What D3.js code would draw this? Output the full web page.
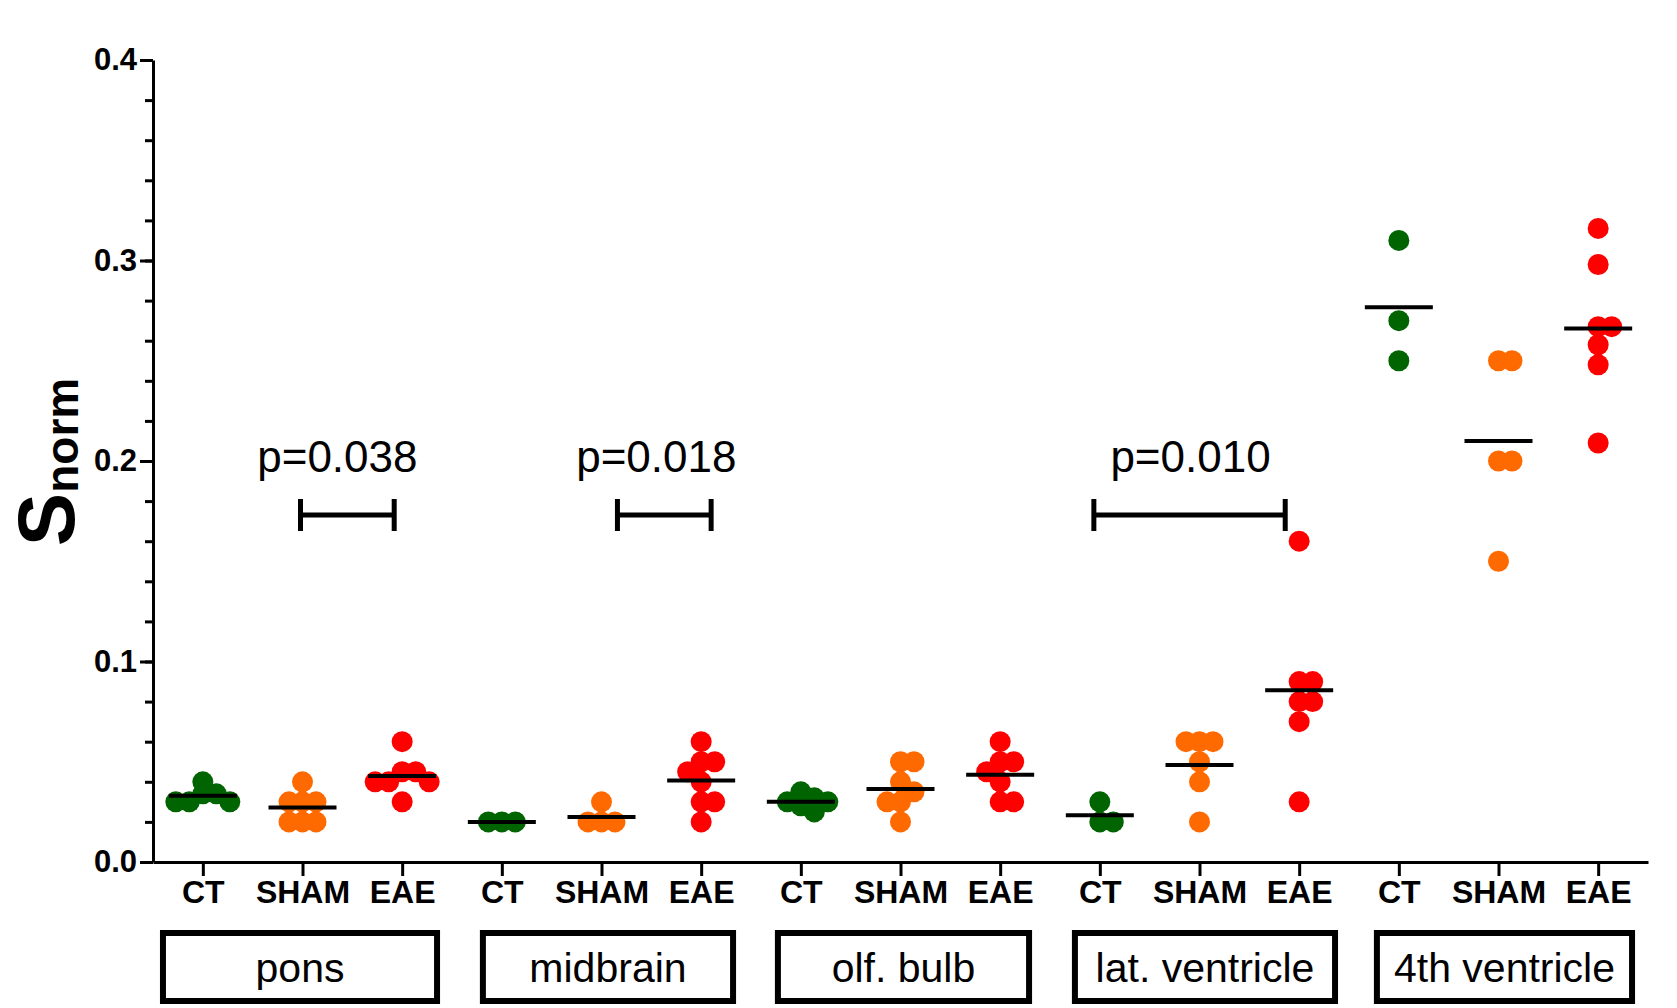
<!DOCTYPE html>
<html>
<head>
<meta charset="utf-8">
<script src="https://cdn.jsdelivr.net/npm/d3@7"></script>
<style>
  html, body { margin: 0; background: #fff; }
  svg { display: block; font-family: Arial, "Liberation Sans", sans-serif; }
</style>
</head>
<body>
<svg id="chart" width="1677" height="1008"></svg>
<script>
/* S_norm scatter dot plot by brain region and group. */
"use strict";

const REGIONS = ["pons", "midbrain", "olf. bulb", "lat. ventricle", "4th ventricle"];
const GROUPS = ["CT", "SHAM", "EAE"];
const GROUP_COLORS = { CT: "#006400", SHAM: "#ff6a00", EAE: "#ff0000" };

/* one list of values per region */
const CT_VALUES = [
  [0.04, 0.034, 0.034, 0.03, 0.03, 0.03],
  [0.02, 0.02, 0.02],
  [0.035, 0.032, 0.03, 0.03, 0.028, 0.025],
  [0.03, 0.02, 0.02],
  [0.31, 0.27, 0.25],
];
const SHAM_VALUES = [
  [0.04, 0.03, 0.03, 0.03, 0.02, 0.02, 0.02],
  [0.03, 0.02, 0.02, 0.02],
  [0.05, 0.05, 0.04, 0.035, 0.03, 0.03, 0.02],
  [0.06, 0.06, 0.06, 0.05, 0.04, 0.02],
  [0.25, 0.25, 0.2, 0.2, 0.15],
];
const EAE_VALUES = [
  [0.06, 0.045, 0.045, 0.04, 0.04, 0.04, 0.03],
  [0.06, 0.05, 0.05, 0.045, 0.04, 0.03, 0.03, 0.02],
  [0.06, 0.05, 0.05, 0.045, 0.04, 0.03, 0.03],
  [0.16, 0.09, 0.09, 0.08, 0.08, 0.07, 0.03],
  [0.316, 0.298, 0.267, 0.267, 0.258, 0.248, 0.209],
];

const Y_TICKS = [0, 0.1, 0.2, 0.3, 0.4];
const Y_MINOR = d3.range(0, 0.401, 0.02);

/* p-value annotations: region index, bracket from/to group (fractional slot) */
const P_LABELS = ["p=0.038", "p=0.018", "p=0.010"];
const P_REGION = [0, 1, 3];
const P_FROM = [0.98, 1.16, -0.06];
const P_TO = [1.92, 2.1, 1.86];
const P_TEXT_AT = [1.35, 1.55, 0.91];

/* region box extents, in slots from the region's first group */
const BOX_FROM = [-0.4, -0.19, -0.23, -0.25, -0.22];
const BOX_TO = [2.35, 2.32, 2.29, 2.36, 2.34];

const svg = d3.select("#chart");
const slots = REGIONS.flatMap((r, ri) => GROUPS.map((g) => ({ region: ri, group: g })));

const x = d3.scalePoint().domain(d3.range(slots.length)).range([153, 1648]).padding(0.5);
const y = d3.scaleLinear([0, 0.4], [862, 60]);
const slotX = (ri, gi) => x(0) + (ri * 3 + gi) * x.step();

/* -- axes ----------------------------------------------------------------- */

const yMinor = svg.append("g").attr("transform", `translate(${x.range()[0]},0)`)
  .call(d3.axisLeft(y).tickValues(Y_MINOR).tickSize(8).tickSizeOuter(0).tickFormat(""));
yMinor.select(".domain").remove();
yMinor.selectAll("line").attr("stroke-width", 3);

const yAxis = svg.append("g").attr("transform", `translate(${x.range()[0]},0)`)
  .call(d3.axisLeft(y).tickValues(Y_TICKS).tickSize(13).tickSizeOuter(0).tickPadding(3)
    .tickFormat(d3.format(".1f")));
yAxis.select(".domain").attr("stroke-width", 3);
yAxis.selectAll("line").attr("stroke-width", 3);
yAxis.selectAll("text").attr("font-size", 31).attr("font-weight", "bold")
  .attr("font-family", "Arial, 'Liberation Sans', sans-serif").attr("fill", "#000");

const xAxis = svg.append("g").attr("transform", `translate(0,${y(0)})`)
  .call(d3.axisBottom(x).tickSize(14).tickSizeOuter(0).tickPadding(4)
    .tickFormat((i) => slots[i].group));
xAxis.select(".domain").attr("stroke-width", 3);
xAxis.selectAll("line").attr("stroke-width", 3);
xAxis.selectAll("text").attr("font-size", 32).attr("font-weight", "bold")
  .attr("font-family", "Arial, 'Liberation Sans', sans-serif").attr("fill", "#000");

/* y title: S with subscript norm */
const title = svg.append("text")
  .attr("transform", `translate(74,462) rotate(-90)`)
  .attr("text-anchor", "middle")
  .attr("font-weight", "bold");
title.append("tspan").attr("font-size", 80).text("S");
title.append("tspan").attr("font-size", 46).attr("dy", 4).text("norm");

/* -- dots, beeswarm-style so equal values spread sideways ------------------- */

const R = 10.5;
const SPREAD = 13.5;
const valueSets = { CT: CT_VALUES, SHAM: SHAM_VALUES, EAE: EAE_VALUES };
const dotLayer = svg.append("g");
const meanLayer = svg.append("g");

REGIONS.forEach((region, ri) => {
  GROUPS.forEach((g, gi) => {
    const values = valueSets[g][ri];
    const cx = slotX(ri, gi);
    const placed = [];
    for (const v of values) {
      const py = y(v);
      let off = 0;
      for (let k = 0; k < 20; k++) {
        off = k === 0 ? 0 : (k % 2 ? 1 : -1) * Math.ceil(k / 2) * SPREAD;
        const hit = placed.some((p) => Math.abs(p.y - py) < 11 && Math.abs(p.x - off) < SPREAD - 0.5);
        if (!hit) break;
      }
      placed.push({ x: off, y: py });
    }
    dotLayer.selectAll(null)
      .data(placed)
      .join("circle")
      .attr("cx", (d) => cx + d.x)
      .attr("cy", (d) => d.y)
      .attr("r", R)
      .attr("fill", GROUP_COLORS[g]);

    meanLayer.append("line")
      .attr("x1", cx - 34)
      .attr("x2", cx + 34)
      .attr("y1", y(d3.mean(values)))
      .attr("y2", y(d3.mean(values)))
      .attr("stroke", "#000")
      .attr("stroke-width", 4);
  });
});

/* -- p-value brackets ------------------------------------------------------- */

const BRACKET_Y = 515;
P_LABELS.forEach((label, i) => {
  const base = P_REGION[i] * 3;
  const x1 = slotX(0, base + P_FROM[i]);
  const x2 = slotX(0, base + P_TO[i]);
  const g = svg.append("g").attr("stroke", "#000").attr("stroke-width", 5);
  g.append("line").attr("x1", x1).attr("x2", x2).attr("y1", BRACKET_Y).attr("y2", BRACKET_Y);
  g.append("line").attr("x1", x1).attr("x2", x1).attr("y1", BRACKET_Y - 16).attr("y2", BRACKET_Y + 16);
  g.append("line").attr("x1", x2).attr("x2", x2).attr("y1", BRACKET_Y - 16).attr("y2", BRACKET_Y + 16);
  svg.append("text")
    .attr("x", slotX(0, base + P_TEXT_AT[i]))
    .attr("y", 472)
    .attr("text-anchor", "middle")
    .attr("font-size", 44)
    .text(label);
});

/* -- region boxes ----------------------------------------------------------- */

REGIONS.forEach((region, ri) => {
  const left = slotX(ri, BOX_FROM[ri]);
  const right = slotX(ri, BOX_TO[ri]);
  svg.append("rect")
    .attr("x", left)
    .attr("y", 933)
    .attr("width", right - left)
    .attr("height", 68)
    .attr("fill", "none")
    .attr("stroke", "#000")
    .attr("stroke-width", 6);
  svg.append("text")
    .attr("x", (left + right) / 2)
    .attr("y", 968)
    .attr("dy", "0.35em")
    .attr("text-anchor", "middle")
    .attr("font-size", 41)
    .text(region);
});
</script>
</body>
</html>
